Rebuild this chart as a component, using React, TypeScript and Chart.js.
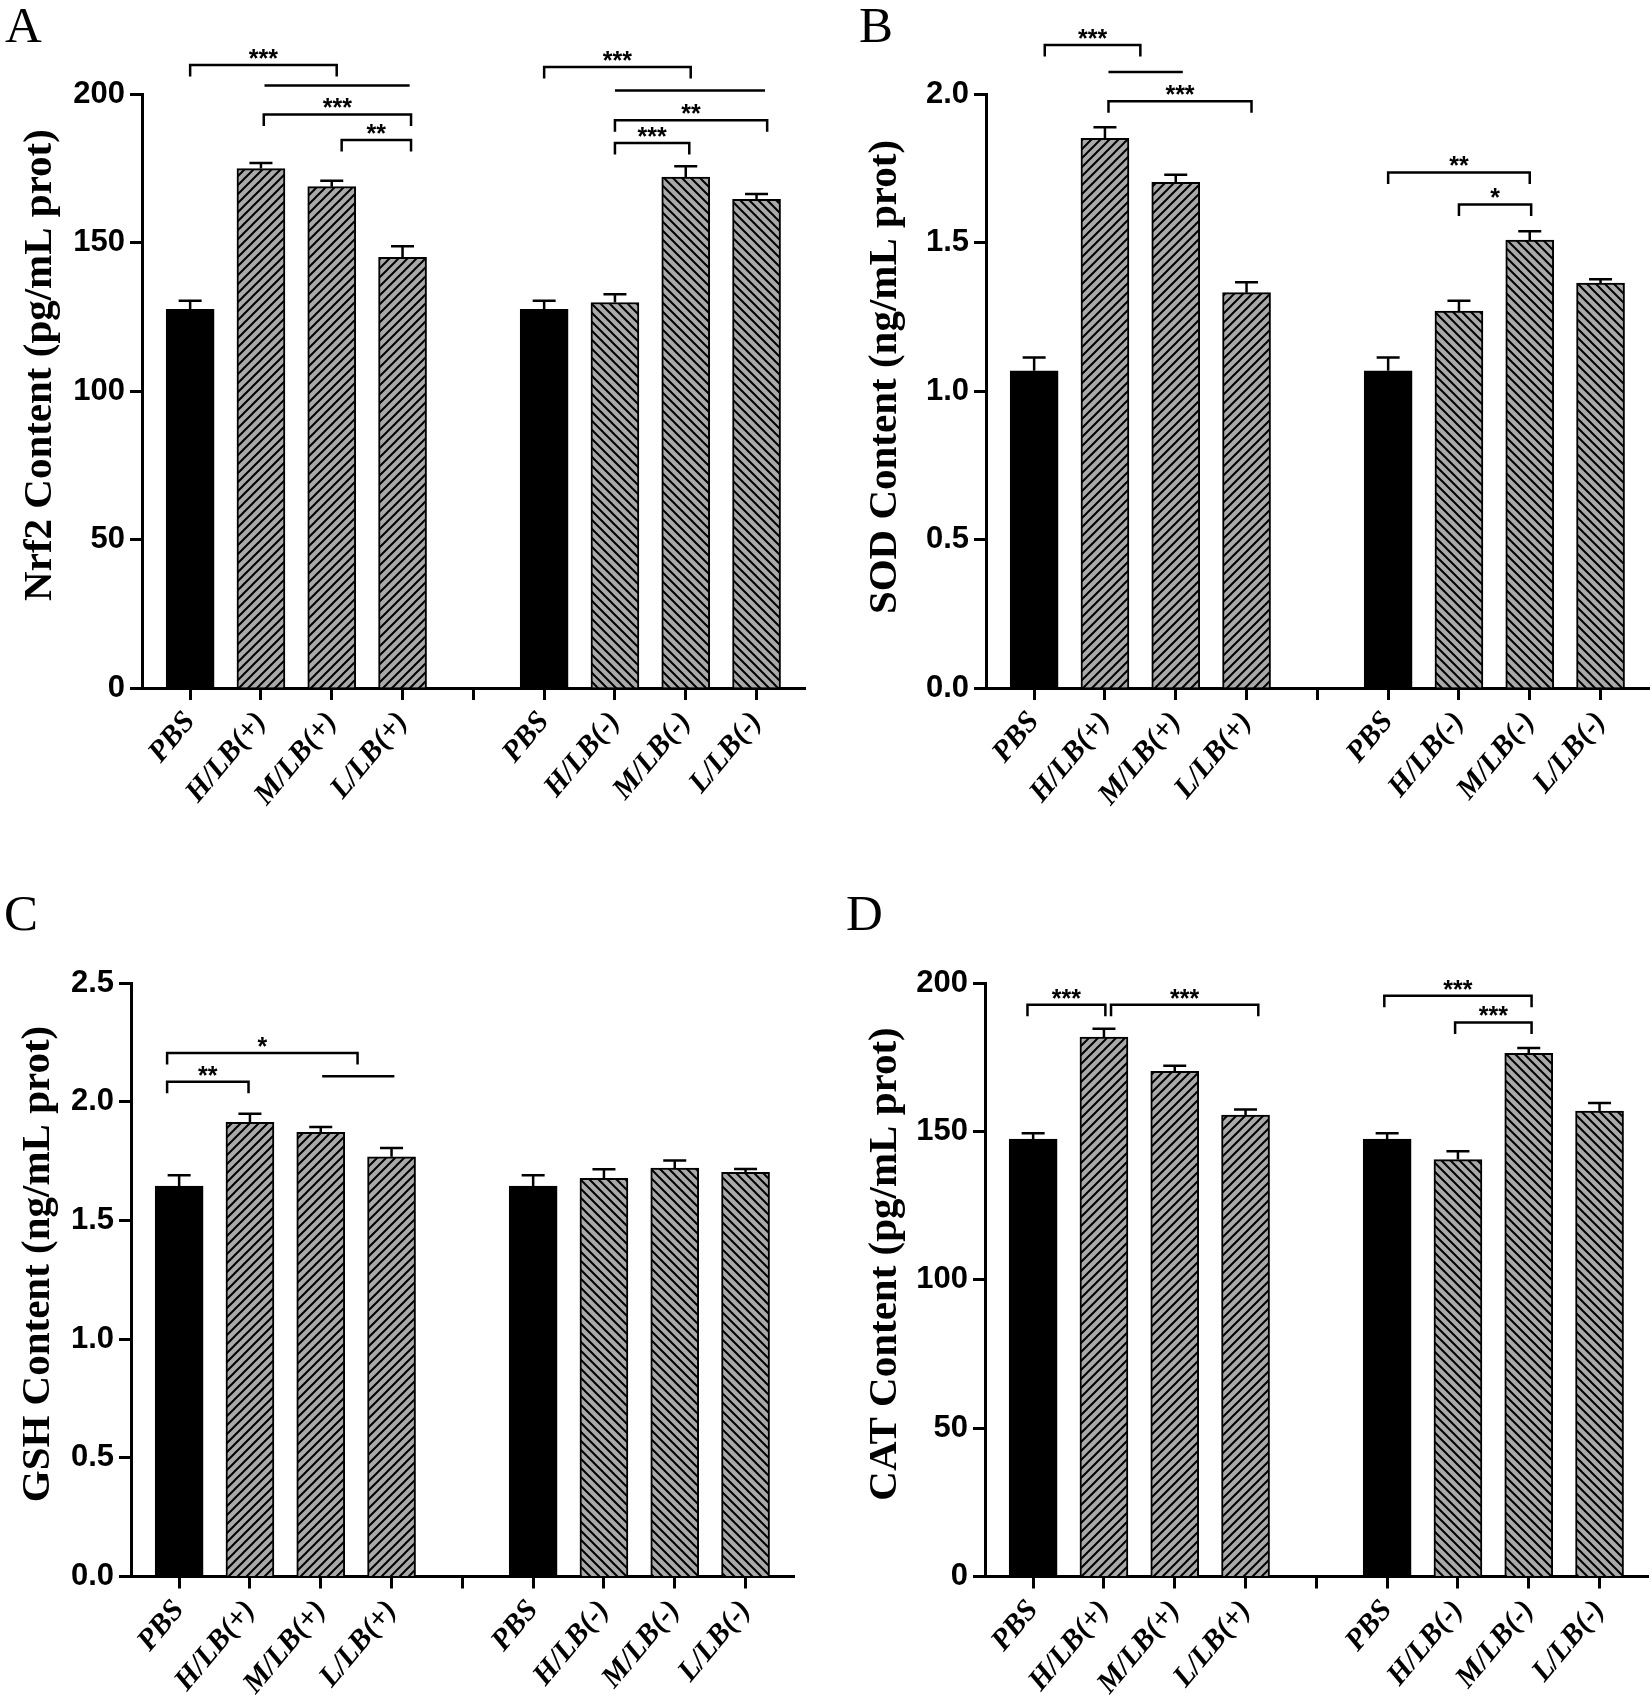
import React, { useEffect, useRef } from 'react';
import { Chart, registerables } from 'chart.js';
Chart.register(...registerables);

// ---------- data ----------
const xLabels = ['PBS', 'H/LB(+)', 'M/LB(+)', 'L/LB(+)', '', 'PBS', 'H/LB(-)', 'M/LB(-)', 'L/LB(-)'];
const barPositions = [0, 1, 2, 3, 5, 6, 7, 8];
const barKinds = ['solid', 'pos', 'pos', 'pos', 'solid', 'neg', 'neg', 'neg'];

const nrf2Means = [127.5, 174.9, 168.8, 145.0, 127.5, 129.8, 172.0, 164.5];
const nrf2Errors = [2.9, 1.9, 2.0, 3.7, 2.9, 2.8, 3.7, 1.8];
const nrf2Ticks = [0, 50, 100, 150, 200];

const sodMeans = [1.068, 1.851, 1.703, 1.331, 1.068, 1.269, 1.508, 1.363];
const sodErrors = [0.045, 0.037, 0.025, 0.035, 0.045, 0.035, 0.03, 0.013];
const sodTicks = [0, 0.5, 1.0, 1.5, 2.0];

const gshMeans = [1.645, 1.913, 1.871, 1.768, 1.645, 1.677, 1.72, 1.703];
const gshErrors = [0.045, 0.036, 0.022, 0.037, 0.045, 0.038, 0.032, 0.013];
const gshTicks = [0, 0.5, 1.0, 1.5, 2.0, 2.5];

const catMeans = [147.4, 181.8, 170.2, 155.5, 147.4, 140.5, 176.3, 156.8];
const catErrors = [2.0, 2.8, 1.9, 1.9, 2.0, 2.8, 1.8, 2.8];
const catTicks = [0, 50, 100, 150, 200];

// significance brackets: [fromIndex, toIndex, yValue, stars, hasDrops]
const nrf2Brackets: [number, number, number, string, boolean][] = [
  [0, 2.07, 209.8, '***', true],
  [1.05, 3.1, 202.9, '', false],
  [1.04, 3.12, 193.1, '***', true],
  [2.14, 3.12, 184.5, '**', true],
  [5.0, 7.07, 209.1, '***', true],
  [6.0, 8.12, 201.2, '', false],
  [6.0, 8.15, 191.2, '**', true],
  [6.0, 7.05, 183.5, '***', true],
];
const sodBrackets: [number, number, number, string, boolean][] = [
  [0.15, 1.5, 2.165, '***', true],
  [1.05, 2.1, 2.074, '', false],
  [1.05, 3.07, 1.976, '***', true],
  [5.0, 7.0, 1.736, '**', true],
  [6.0, 7.02, 1.628, '*', true],
];
const gshBrackets: [number, number, number, string, boolean][] = [
  [-0.17, 2.52, 2.205, '*', true],
  [-0.17, 0.98, 2.084, '**', true],
  [2.02, 3.04, 2.107, '', false],
];
const catBrackets: [number, number, number, string, boolean][] = [
  [-0.08, 1.02, 192.7, '***', true],
  [1.1, 3.18, 192.7, '***', true],
  [4.96, 7.04, 195.7, '***', true],
  [5.96, 7.04, 186.7, '***', true],
];

// ---------- layout / style ----------
const W = 826;
const H = 851;
const X_MIN = -0.68;
const X_MAX = 8.69;
const HATCH_FILL = '#a9a9a9';

type PanelCfg = {
  letter: string;
  title: string;
  means: number[];
  errors: number[];
  ticks: number[];
  decimals: number;
  brackets: [number, number, number, string, boolean][];
  left: number;
  top: number;
  chartLeft: number;
  chartTop: number;
  chartBottom: number;
  letterX: number;
  letterY: number;
  titleX: number;
  titleY: number;
};

const panels: PanelCfg[] = [
  {
    letter: 'A', title: 'Nrf2 Content (pg/mL prot)', means: nrf2Means, errors: nrf2Errors, ticks: nrf2Ticks,
    decimals: 0, brackets: nrf2Brackets, left: 0, top: 0, chartLeft: 142, chartTop: 94, chartBottom: 688,
    letterX: 5, letterY: 42, titleX: 40, titleY: 365,
  },
  {
    letter: 'B', title: 'SOD Content (ng/mL prot)', means: sodMeans, errors: sodErrors, ticks: sodTicks,
    decimals: 1, brackets: sodBrackets, left: 826, top: 0, chartLeft: 160, chartTop: 94, chartBottom: 688,
    letterX: 33, letterY: 42, titleX: 59, titleY: 377,
  },
  {
    letter: 'C', title: 'GSH Content (ng/mL prot)', means: gshMeans, errors: gshErrors, ticks: gshTicks,
    decimals: 1, brackets: gshBrackets, left: 0, top: 851, chartLeft: 131, chartTop: 132, chartBottom: 725.5,
    letterX: 4, letterY: 79, titleX: 38, titleY: 413,
  },
  {
    letter: 'D', title: 'CAT Content (pg/mL prot)', means: catMeans, errors: catErrors, ticks: catTicks,
    decimals: 0, brackets: catBrackets, left: 826, top: 851, chartLeft: 159, chartTop: 132, chartBottom: 725.5,
    letterX: 20, letterY: 79, titleX: 59, titleY: 413,
  },
];

function makeHatch(ctx: CanvasRenderingContext2D, dir: number) {
  const s = 9;
  const c = document.createElement('canvas');
  c.width = s;
  c.height = s;
  const g = c.getContext('2d')!;
  g.fillStyle = HATCH_FILL;
  g.fillRect(0, 0, s, s);
  g.strokeStyle = '#000';
  g.lineWidth = 2;
  g.beginPath();
  if (dir > 0) {
    g.moveTo(0, s); g.lineTo(s, 0);
    g.moveTo(-s / 2, s / 2); g.lineTo(s / 2, -s / 2);
    g.moveTo(s / 2, 1.5 * s); g.lineTo(1.5 * s, s / 2);
  } else {
    g.moveTo(0, 0); g.lineTo(s, s);
    g.moveTo(-s / 2, s / 2); g.lineTo(s / 2, 1.5 * s);
    g.moveTo(s / 2, -s / 2); g.lineTo(1.5 * s, s / 2);
  }
  g.stroke();
  return ctx.createPattern(c, 'repeat');
}

function buildChart(canvas: HTMLCanvasElement, cfg: PanelCfg) {
  const ctx = canvas.getContext('2d')!;
  const pos = makeHatch(ctx, 1);
  const neg = makeHatch(ctx, -1);
  const fills = barKinds.map((k) => (k === 'solid' ? '#000000' : k === 'pos' ? pos : neg));
  const chartRight = cfg.chartLeft + 663.4;
  const yMax = cfg.ticks[cfg.ticks.length - 1];

  const overlay = {
    id: 'overlay' + cfg.letter,
    afterDatasetsDraw(chart: any) {
      const c = chart.ctx;
      const ys = chart.scales.y;
      const meta = chart.getDatasetMeta(0);
      c.save();
      c.strokeStyle = '#000';
      c.lineWidth = 2.5;
      meta.data.forEach((bar: any, i: number) => {
        const top = ys.getPixelForValue(cfg.means[i] + cfg.errors[i]);
        c.beginPath();
        c.moveTo(bar.x, bar.y);
        c.lineTo(bar.x, top);
        c.moveTo(bar.x - 11.5, top);
        c.lineTo(bar.x + 11.5, top);
        c.stroke();
      });
      c.restore();
    },
    afterDraw(chart: any) {
      const c = chart.ctx;
      const xs = chart.scales.x;
      const ys = chart.scales.y;
      c.save();
      // brackets
      c.strokeStyle = '#000';
      c.lineWidth = 2.5;
      c.fillStyle = '#000';
      c.font = 'bold 25px "Liberation Sans", Arial, sans-serif';
      c.textAlign = 'center';
      c.textBaseline = 'alphabetic';
      cfg.brackets.forEach(([a, b, yv, txt, drops]) => {
        const x1 = xs.getPixelForValue(a);
        const x2 = xs.getPixelForValue(b);
        const y = ys.getPixelForValue(yv);
        c.beginPath();
        if (drops) {
          c.moveTo(x1, y + 11.5);
          c.lineTo(x1, y);
          c.lineTo(x2, y);
          c.lineTo(x2, y + 11.5);
        } else {
          c.moveTo(x1, y);
          c.lineTo(x2, y);
        }
        c.stroke();
        if (txt) c.fillText(txt, (x1 + x2) / 2, y + 2);
      });
      // panel letter
      c.textAlign = 'left';
      c.font = '51px "Liberation Serif", "Times New Roman", serif';
      c.fillText(cfg.letter, cfg.letterX, cfg.letterY);
      // y title
      c.translate(cfg.titleX, cfg.titleY);
      c.rotate(-Math.PI / 2);
      c.textAlign = 'center';
      c.textBaseline = 'middle';
      c.font = 'bold 41px "Liberation Serif", "Times New Roman", serif';
      c.fillText(cfg.title, 0, 0);
      c.restore();
    },
  };

  return new Chart(canvas, {
    type: 'bar',
    data: {
      datasets: [
        {
          data: barPositions.map((x, i) => ({ x, y: cfg.means[i] })),
          backgroundColor: fills as any,
          borderColor: '#000',
          borderWidth: 2,
          barThickness: 48,
        },
      ],
    },
    options: {
      responsive: false,
      animation: false,
      devicePixelRatio: 1,
      layout: { padding: { left: 0, top: cfg.chartTop, right: W - chartRight, bottom: 0 } },
      plugins: { legend: { display: false }, tooltip: { enabled: false } },
      scales: {
        x: {
          type: 'linear',
          min: X_MIN,
          max: X_MAX,
          offset: false,
          afterBuildTicks: (s: any) => {
            s.ticks = xLabels.map((_, i) => ({ value: i }));
          },
          afterFit: (s: any) => {
            s.height = H - cfg.chartBottom;
          },
          grid: { offset: false, drawOnChartArea: false, drawTicks: true, tickLength: 12, tickWidth: 3, tickColor: '#000' },
          border: { display: true, color: '#000', width: 3 },
          ticks: {
            autoSkip: false,
            maxRotation: 50,
            minRotation: 50,
            padding: 5,
            color: '#000',
            font: { family: '"Liberation Serif", "Times New Roman", serif', size: 30, style: 'italic', weight: 'bold' },
            callback: (v: any) => xLabels[Math.round(Number(v))] ?? '',
          },
        },
        y: {
          type: 'linear',
          min: 0,
          max: yMax,
          afterBuildTicks: (s: any) => {
            s.ticks = cfg.ticks.map((v) => ({ value: v }));
          },
          afterFit: (s: any) => {
            s.width = cfg.chartLeft;
          },
          grid: { drawOnChartArea: false, drawTicks: true, tickLength: 12, tickWidth: 3, tickColor: '#000' },
          border: { display: true, color: '#000', width: 3 },
          ticks: {
            padding: 5,
            color: '#000',
            font: { family: '"Liberation Sans", Arial, sans-serif', size: 31, weight: 'bold' },
            callback: (v: any) => Number(v).toFixed(cfg.decimals),
          },
        },
      },
    } as any,
    plugins: [overlay],
  });
}

function Panel({ cfg }: { cfg: PanelCfg }) {
  const ref = useRef<HTMLCanvasElement>(null);
  useEffect(() => {
    const chart = buildChart(ref.current!, cfg);
    return () => chart.destroy();
  }, [cfg]);
  return (
    <canvas
      ref={ref}
      width={W}
      height={H}
      style={{ position: 'absolute', left: cfg.left, top: cfg.top, width: W, height: H }}
    />
  );
}

export default function App() {
  return (
    <div style={{ position: 'absolute', left: 0, top: 0, width: 1652, height: 1702, background: '#fff' }}>
      {panels.map((p) => (
        <Panel key={p.letter} cfg={p} />
      ))}
    </div>
  );
}
